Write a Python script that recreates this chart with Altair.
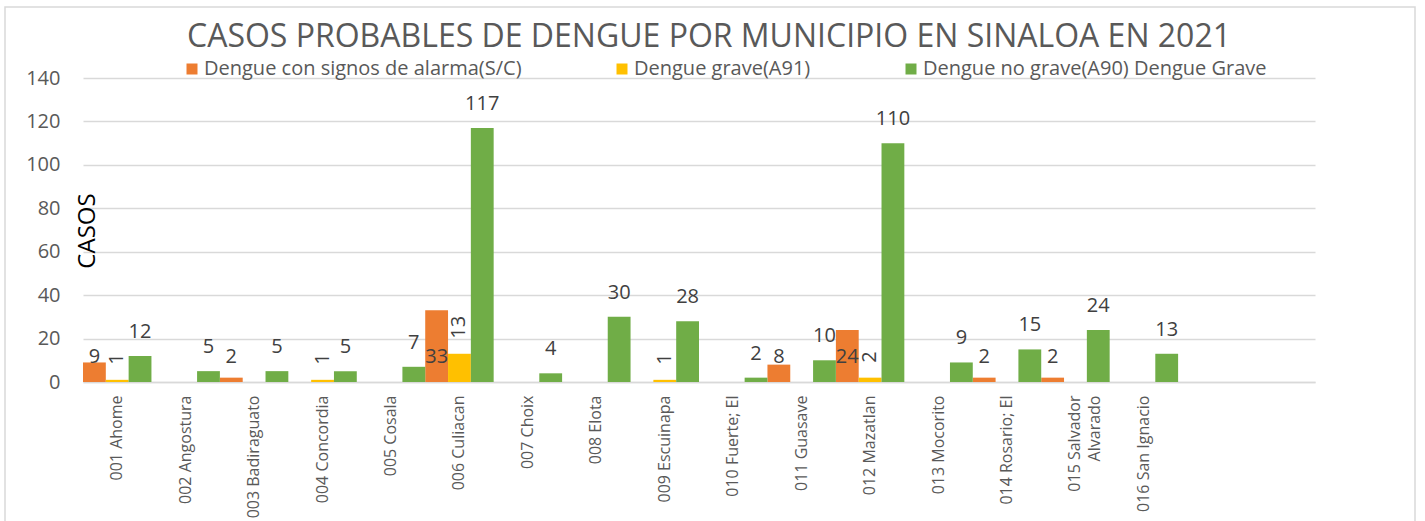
import altair as alt
import pandas as pd

titulo = "CASOS PROBABLES DE DENGUE POR MUNICIPIO EN SINALOA EN 2021"
municipios = [
    "001 Ahome", "002 Angostura", "003 Badiraguato", "004 Concordia",
    "005 Cosala", "006 Culiacan", "007 Choix", "008 Elota", "009 Escuinapa",
    "010 Fuerte; El", "011 Guasave", "012 Mazatlan", "013 Mocorito",
    "014 Rosario; El", "015 Salvador Alvarado", "016 San Ignacio",
]
series = [
    "Dengue con signos de alarma(S/C)",
    "Dengue grave(A91)",
    "Dengue no grave(A90) Dengue Grave",
]
colores = ["#ED7D31", "#FFC000", "#70AD47"]
con_signos = [9, None, 2, None, None, 33, None, None, None, None, 8, 24, None, 2, 2, None]
grave = [1, None, None, 1, None, 13, None, None, 1, None, None, 2, None, None, None, None]
no_grave = [12, 5, 5, 5, 7, 117, 4, 30, 28, 2, 10, 110, 9, 15, 24, 13]
y_ticks = [0, 20, 40, 60, 80, 100, 120, 140]

rows = []
for serie, vals in zip(series, [con_signos, grave, no_grave]):
    for m, v in zip(municipios, vals):
        if v is not None:
            rows.append({"municipio": m, "serie": serie, "valor": v})
df = pd.DataFrame(rows)

W, H = 1232, 304
GRAY = "#595959"

x_enc = alt.X(
    "municipio:N", sort=municipios,
    scale=alt.Scale(domain=municipios, paddingInner=0, paddingOuter=1, align=0),
    axis=alt.Axis(
        title=None, labelAngle=270, labelAlign="right", labelBaseline="middle",
        labelPadding=13, labelFontSize=16, labelColor=GRAY, ticks=False, tickSize=0,
        domainColor="#d9d9d9", domainWidth=1.5, labelLimit=250, labelLineHeight=20,
        labelExpr="datum.value == '015 Salvador Alvarado' ? ['015 Salvador', 'Alvarado'] : datum.value",
    ),
)
xo_enc = alt.XOffset("serie:N", sort=series,
                     scale=alt.Scale(domain=series, paddingInner=0, paddingOuter=0))


def y_enc(field):
    return alt.Y(
        f"{field}:Q", scale=alt.Scale(domain=[0, 140]),
        axis=alt.Axis(
            values=y_ticks, title="CASOS", titleX=4.5, titleY=152.5, titleAngle=270,
            titleAlign="center", titleBaseline="middle", titleFontSize=24,
            titleFontWeight="normal", titleColor="black", labelFontSize=20,
            labelColor=GRAY, labelPadding=23, ticks=False, tickSize=0, domain=False,
            gridColor="#d9d9d9", gridWidth=1.5,
        ),
    )


frame = alt.Chart(alt.Data(values=[{}])).mark_rect(
    fillOpacity=0, stroke="#d9d9d9", strokeWidth=1.5
).encode(x=alt.value(-78), x2=alt.value(1332), y=alt.value(-71), y2=alt.value(480))

bars = alt.Chart(df).mark_bar().encode(
    x=x_enc, xOffset=xo_enc, y=y_enc("valor"),
    color=alt.Color(
        "serie:N", sort=series, scale=alt.Scale(domain=series, range=colores),
        legend=alt.Legend(
            title=None, orient="none", legendX=99, legendY=-19, direction="horizontal",
            symbolType="square", symbolSize=121, symbolStrokeWidth=0, labelFontSize=20,
            labelColor=GRAY, labelLimit=600, columnPadding=90, labelOffset=2,
        ),
    ),
)

txt = dict(fontSize=20, color="#404040")

green_lbl = alt.Chart(df).transform_filter(
    alt.datum.serie == series[2]
).mark_text(baseline="middle", dy=-24, **txt).encode(
    x=x_enc, xOffset=xo_enc, y=y_enc("valor"), text="valor:Q"
)

yellow_lbl = alt.Chart(df).transform_filter(
    alt.datum.serie == series[1]
).mark_text(baseline="middle", align="left", angle=270, dx=15, **txt).encode(
    x=x_enc, xOffset=xo_enc, y=y_enc("valor"), text="valor:Q"
)

orange_lbl = alt.Chart(df).transform_filter(
    alt.datum.serie == series[0]
).transform_calculate(lab="min(datum.valor, 2)").mark_text(
    baseline="middle", dy=-21, **txt
).encode(x=x_enc, xOffset=xo_enc, y=y_enc("lab"), text="valor:Q")

chart = alt.layer(frame, bars, orange_lbl, yellow_lbl, green_lbl).properties(
    width=W, height=H,
    title=alt.TitleParams(
        text=titulo, fontSize=32, color=GRAY, fontWeight="normal", anchor="middle",
        frame="group", baseline="alphabetic", offset=-73, dx=10,
    ),
    padding={"left": 83, "top": 78, "right": 110, "bottom": 139},
    autosize=alt.AutoSizeParams(type="none"),
).configure(font="Open Sans", background="white").configure_view(stroke=None)

chart.save("out.html", embed_options={"renderer": "svg", "actions": False})
